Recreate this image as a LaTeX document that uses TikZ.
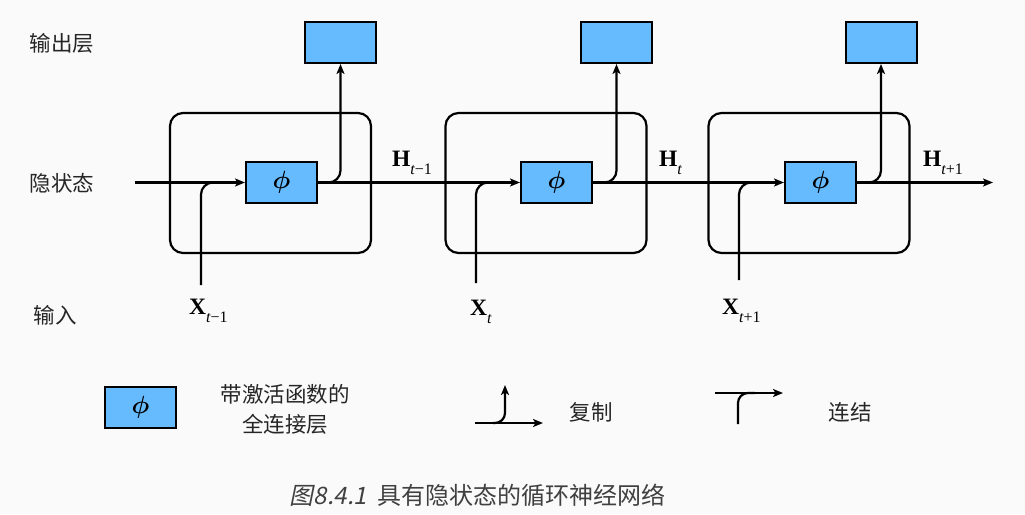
\documentclass[tikz,border=0pt]{standalone}
\usepackage{fontspec}
\usepackage{bm}
\usetikzlibrary{arrows.meta}
\newfontfamily\cjk{Noto Sans CJK SC}
\newfontfamily\cjkit{Noto Sans CJK SC}[FakeSlant=0.2]
\newfontfamily\tms{Liberation Serif}
\newcommand{\vlab}[2]{{\tms\fontsize{23.5}{26}\selectfont\bfseries #1}\raisebox{-8pt}{\tms\fontsize{16}{18}\selectfont #2}}
\definecolor{bg}{HTML}{FAFAFA}
\definecolor{fc}{RGB}{102,187,255}
\begin{document}
\begin{tikzpicture}[x=1pt,y=-1pt, line width=2.2pt,
  tip/.style={-{Stealth[length=10pt,width=8pt,inset=2.5pt]}},
  phibox/.style={draw, fill=fc, minimum width=71pt, minimum height=41pt, inner sep=0pt, line width=2pt, font=\fontsize{23}{28}\selectfont},
  outbox/.style={draw, fill=fc, minimum width=71pt, minimum height=41pt, inner sep=0pt, line width=2pt},
  cell/.style={draw, rounded corners=13pt, minimum width=201pt, minimum height=140pt, inner sep=0pt},
  lab/.style={font=\cjk\fontsize{21.5}{30}\selectfont, text=black!85},
  mlab/.style={anchor=base west, inner sep=0pt},
  conn/.style={rounded corners=12pt}
]
\fill[bg] (0,0) rectangle (1025,514);
\useasboundingbox (0,0) rectangle (1025,514);

% cells
\node[cell] (c1) at (270.5,183) {};
\node[cell] (c2) at (546,183) {};
\node[cell] (c3) at (809,183) {};

% phi boxes
\node[phibox] (p1) at (281.5,182.5) {$\bm{\phi}$};
\node[phibox] (p2) at (556.5,182.5) {$\bm{\phi}$};
\node[phibox] (p3) at (820.5,182.5) {$\bm{\phi}$};

% output boxes
\node[outbox] (o1) at (340.5,42.5) {};
\node[outbox] (o2) at (616.5,42.5) {};
\node[outbox] (o3) at (881,42.5) {};

% horizontal state line
\coordinate (in) at (135,182.5);
\coordinate (out) at (993,182.5);
\draw[tip] (in) -- (p1.west);
\draw[tip] (p1.east) -- (p2.west);
\draw[tip] (p2.east) -- (p3.west);
\draw[tip] (p3.east) -- (out);

% inputs
\coordinate (x1) at (201,285);
\coordinate (j1) at (230,182.5);
\coordinate (x2) at (476,283);
\coordinate (j2) at (505,182.5);
\coordinate (x3) at (739,280);
\coordinate (j3) at (768,182.5);
\draw[conn] (x1) |- (j1);
\draw[conn] (x2) |- (j2);
\draw[conn] (x3) |- (j3);

% outputs
\draw[tip, conn] (p1.east) -| (o1.south);
\draw[tip, conn] (p2.east) -| (o2.south);
\draw[tip, conn] (p3.east) -| (o3.south);

% labels
\node[lab] (l1) at (62,43) {输出层};
\node[lab] (l2) at (62,183) {隐状态};
\node[lab] (l3) at (55,315) {输入};

\node[mlab] (h1) at (391,166.5) {\vlab{H}{\itshape t\upshape −1}};
\node[mlab] (h2) at (658,166.5) {\vlab{H}{\itshape t}};
\node[mlab] (h3) at (922,166.5) {\vlab{H}{\itshape t\upshape +1}};
\node[mlab] (xl1) at (188,314) {\vlab{X}{\itshape t\upshape −1}};
\node[mlab] (xl2) at (469,315) {\vlab{X}{\itshape t}};
\node[mlab] (xl3) at (721,314) {\vlab{X}{\itshape t\upshape +1}};

% legend
\node[phibox] (lg) at (140.5,407.5) {$\bm{\phi}$};
\node[lab, align=center] (lgt) at (285,409) {带激活函数的\\全连接层};

\coordinate (ca) at (475,423);
\coordinate (cb) at (543,423);
\coordinate (cc) at (493,423);
\coordinate (cd) at (505,385);
\draw[tip] (ca) -- (cb);
\draw[tip, rounded corners=10pt] (cc) -| (cd);
\node[lab] (lc) at (591,412) {复制};

\coordinate (ka) at (715,393);
\coordinate (kb) at (783,393);
\coordinate (kc) at (738,424);
\coordinate (kd) at (755,393);
\draw[tip] (ka) -- (kb);
\draw[rounded corners=10pt] (kc) |- (kd);
\node[lab] (lk) at (850,412) {连结};

% caption
\node[font=\fontsize{24}{27}\selectfont, text=black!75] (cap) at (477.5,495) {{\cjkit 图8.4.1}\hspace{10pt}{\cjk 具有隐状态的循环神经网络}};
\end{tikzpicture}
\end{document}
